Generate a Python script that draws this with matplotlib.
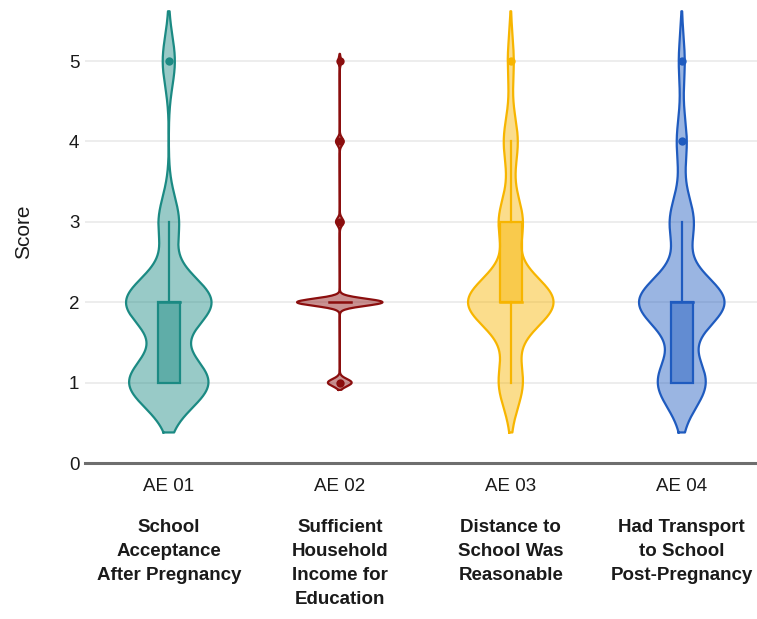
import numpy as np
import matplotlib
matplotlib.use('Agg')
import matplotlib.pyplot as plt
from matplotlib.colors import to_rgba

# Likert scores and how many answers each item got
scores = np.array([1, 2, 3, 4, 5])
ae01_counts = [39, 42, 10, 0, 6]
ae02_counts = [25, 90, 8, 8, 3]
ae03_counts = [12, 43, 12, 7, 3]
ae04_counts = [24, 43, 12, 5, 3]

codes = ['AE 01', 'AE 02', 'AE 03', 'AE 04']
descriptions = [
    'School\nAcceptance\nAfter Pregnancy',
    'Sufficient\nHousehold\nIncome for\nEducation',
    'Distance to\nSchool Was\nReasonable',
    'Had Transport\nto School\nPost-Pregnancy',
]
bandwidths = [0.31, 0.045, 0.31, 0.31]
colors = ['#1b8a83', '#8b0e0e', '#f7b500', '#1f5bbf']

all_counts = [ae01_counts, ae02_counts, ae03_counts, ae04_counts]

plt.rcParams['font.family'] = ['Liberation Sans', 'DejaVu Sans']

fig = plt.figure(figsize=(7.57, 6.19), dpi=100)
ax = fig.add_axes([85 / 757, 156 / 619, 672 / 757, 463 / 619])

HALF_W = 0.25
BOX_W = 0.064

for i, (counts, bw, col) in enumerate(zip(all_counts, bandwidths, colors)):
    data = np.repeat(scores, counts)
    lo, hi = data.min() - 2 * bw, data.max() + 2 * bw
    grid = np.linspace(lo, hi, 600)
    dens = np.zeros_like(grid)
    for s, c in zip(scores, counts):
        dens += c * np.exp(-0.5 * ((grid - s) / bw) ** 2)
    w = dens / dens.max() * HALF_W

    ax.fill_betweenx(grid, i - w, i + w, facecolor=to_rgba(col, 0.45),
                     edgecolor='none', zorder=2)
    ax.plot(np.concatenate([i - w, (i + w)[::-1], [i - w[0]]]),
            np.concatenate([grid, grid[::-1], [grid[0]]]),
            color=col, lw=1.6, zorder=3, solid_joinstyle='round')

    q1, med, q3 = np.percentile(data, [25, 50, 75])
    iqr = q3 - q1
    inside = data[(data >= q1 - 1.5 * iqr) & (data <= q3 + 1.5 * iqr)]
    wlo, whi = inside.min(), inside.max()
    outliers = np.unique(data[(data < q1 - 1.5 * iqr) | (data > q3 + 1.5 * iqr)])

    if whi > q3:
        ax.plot([i, i], [q3, whi], color=col, lw=1.6, zorder=4)
    if wlo < q1:
        ax.plot([i, i], [wlo, q1], color=col, lw=1.6, zorder=4)
    if iqr > 0:
        ax.add_patch(plt.Rectangle((i - BOX_W, q1), 2 * BOX_W, iqr,
                                   facecolor=to_rgba(col, 0.45), edgecolor=col,
                                   lw=1.6, zorder=5))
    ax.plot([i - BOX_W, i + BOX_W], [med, med], color=col, lw=1.8, zorder=6)
    ax.plot(np.full(len(outliers), i), outliers, 'o', color=col, ms=6,
            mec='none', zorder=7)

ax.set_xlim(-0.49, 3.44)
ax.set_ylim(0, 5.76)
ax.set_yticks([0, 1, 2, 3, 4, 5])
ax.set_xticks(range(4))
ax.set_xticklabels(codes)
ax.tick_params(length=0, labelsize=13.5, labelcolor='#1a1a1a')
ax.tick_params(axis='x', pad=11)
ax.tick_params(axis='y', pad=4)
for s in ax.spines.values():
    s.set_visible(False)
for y in range(1, 6):
    ax.axhline(y, color='#e8e8e8', lw=1.1, zorder=0)
ax.axhline(0, color='#6e6e6e', lw=2.2, zorder=1, clip_on=False)
ax.set_ylabel('Score', fontsize=15, color='#1a1a1a', labelpad=26)

for i, txt in enumerate(descriptions):
    ax.text(i, -0.122, txt, transform=ax.get_xaxis_transform(), ha='center',
            va='top', fontsize=13.5, fontweight='bold', color='#1a1a1a',
            linespacing=1.52)

fig.savefig('out.png', dpi=100)
